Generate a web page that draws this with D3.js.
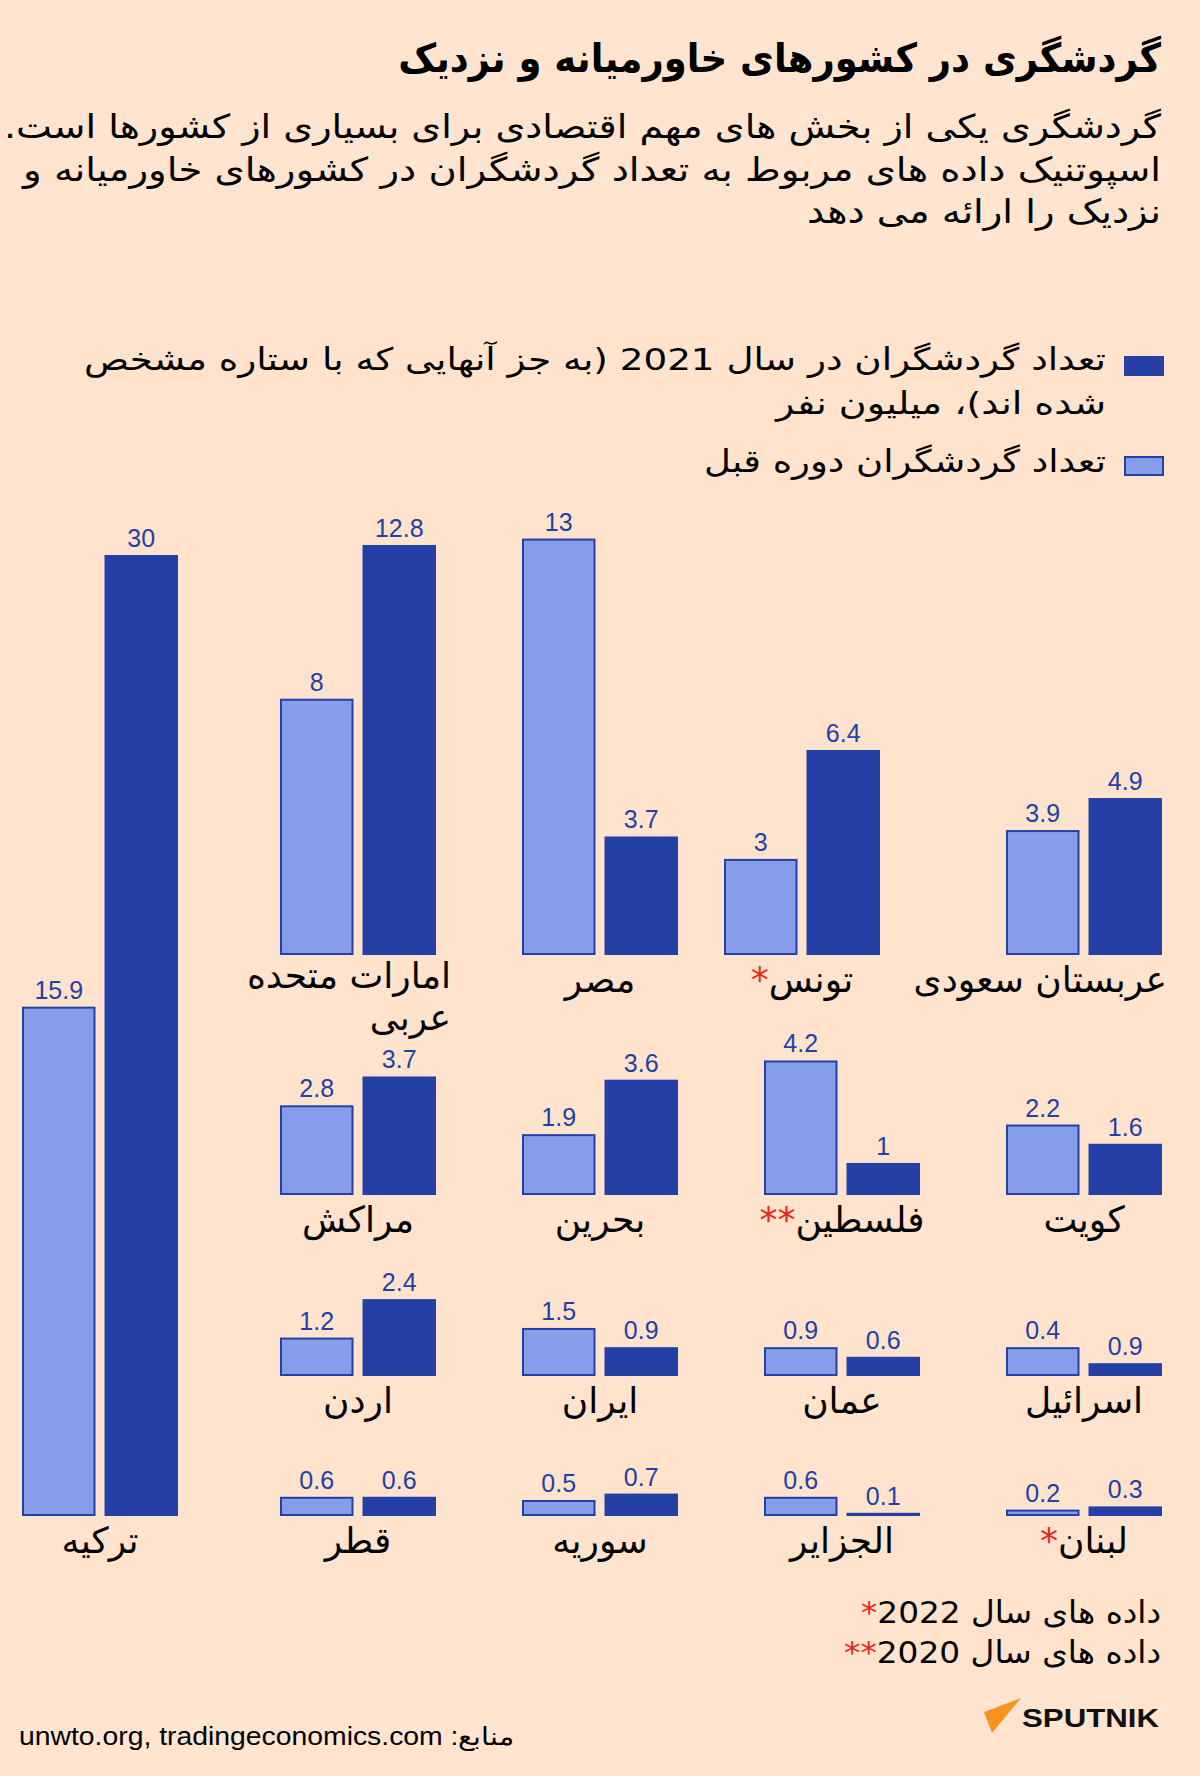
<!DOCTYPE html>
<html><head><meta charset="utf-8">
<script src="https://cdnjs.cloudflare.com/ajax/libs/d3/7.8.5/d3.min.js"></script>
<style>html,body{margin:0;padding:0;background:#FFE5CF;}svg{display:block;}</style>
</head><body><div id="chart"></div>
<script>
// ---------- data ----------
const countries = ["ترکیه","امارات متحده عربی","مصر","تونس","عربستان سعودی","مراکش","بحرین","فلسطین","کویت","اردن","ایران","عمان","اسرائیل","قطر","سوریه","الجزایر","لبنان"];
const prevValues = [15.9, 8, 13, 3, 3.9, 2.8, 1.9, 4.2, 2.2, 1.2, 1.5, 0.9, 0.9, 0.6, 0.5, 0.6, 0.2];
const currValues = [30, 12.8, 3.7, 6.4, 4.9, 3.7, 3.6, 1, 1.6, 2.4, 0.9, 0.6, 0.4, 0.6, 0.7, 0.1, 0.3];
const prevLabels = ["15.9","8","13","3","3.9","2.8","1.9","4.2","2.2","1.2","1.5","0.9","0.4","0.6","0.5","0.6","0.2"];
const currLabels = ["30","12.8","3.7","6.4","4.9","3.7","3.6","1","1.6","2.4","0.9","0.6","0.9","0.6","0.7","0.1","0.3"];
const marks = ["","","","*","","","","**","","","","","","","","","*"];
const seriesNames = ["تعداد گردشگران در سال 2021 (به جز آنهایی که با ستاره مشخص", "شده اند)، میلیون نفر", "تعداد گردشگران دوره قبل"];
const titleText = "گردشگری در کشورهای خاورمیانه و نزدیک";
const subtitleLines = ["گردشگری یکی از بخش های مهم اقتصادی برای بسیاری از کشورها است.", "اسپوتنیک داده های مربوط به تعداد گردشگران در کشورهای خاورمیانه و", "نزدیک را ارائه می دهد"];
const notes = [["داده های سال 2022","*"],["داده های سال 2020","**"]];
const sourceText = "منابع: unwto.org, tradingeconomics.com";

// ---------- layout ----------
const gridRow = [3,0,0,0,0,1,1,1,1,2,2,2,2,3,3,3,3];
const gridCol = [-1,0,1,2,3,0,1,2,3,0,1,2,3,0,1,2,3];
const nudge = {"تونس": -40};
const wrapLabels = {"امارات متحده عربی": ["امارات متحده","عربی"]};
const rightAligned = {"امارات متحده عربی": 15, "عربستان سعودی": 5};
const labelShift = {"امارات متحده عربی": -4};

const DARK = "#2440A6", LIGHT = "#869DEA", BG = "#FFE5CF";
const ARFONT = "'DejaVu Sans', sans-serif";
const NUMFONT = "'Liberation Sans', Arial, sans-serif";

const W = 1200, H = 1776;
const svg = d3.select("#chart").append("svg").attr("width", W).attr("height", H);
svg.append("rect").attr("width", W).attr("height", H).attr("fill", BG);
svg.append("rect").attr("x", 40).attr("y", 333).attr("width", 1131).attr("height", 1330).attr("fill", "#FFE3CD");

// title (horizontally condensed to the reference width via a transform)
const title = svg.append("text").attr("x", 0).attr("y", 0).attr("direction","rtl").attr("text-anchor","start")
  .attr("font-family", ARFONT).attr("font-weight","bold").attr("font-size", 40)
  .attr("fill","#000").text(titleText);
const tw = title.node().getComputedTextLength();
const sx = Math.min(1, 763 / tw);
title.attr("transform", `translate(1161,72) scale(${sx},1)`);

const subW = [1157, 1138, 354];
const subY = [138, 181, 223];
subtitleLines.forEach((t,i)=>{
  svg.append("text").attr("x", 1161).attr("y", subY[i]).attr("direction","rtl").attr("text-anchor","start")
    .attr("font-family", ARFONT).attr("font-size", 33)
    .attr("textLength", subW[i]).attr("lengthAdjust","spacingAndGlyphs").attr("fill","#000").text(t);
});

// legend
svg.append("rect").attr("x",1124).attr("y",356).attr("width",40).attr("height",20).attr("fill",DARK);
svg.append("rect").attr("x",1125).attr("y",457).attr("width",38).attr("height",18).attr("fill",LIGHT).attr("stroke",DARK).attr("stroke-width",2);
const legY = [370, 414, 472];
const legW = [1022, 330, 402];
seriesNames.forEach((t,i)=>{
  svg.append("text").attr("x",1106).attr("y",legY[i]).attr("direction","rtl").attr("text-anchor","start")
    .attr("font-family", ARFONT).attr("font-size", 31)
    .attr("textLength", legW[i]).attr("lengthAdjust","spacingAndGlyphs").attr("fill","#000").text(t);
});

// scales
const y = d3.scaleLinear().domain([0, 30]).range([0, 961]);
const rowBase = d3.scaleOrdinal().domain([0,1,2,3]).range([955, 1195, 1376, 1516]);
const colX = d3.scalePoint().domain([0,1,2,3]).range([280, 1006]);
const band = d3.scaleBand().domain(["prev","curr"]).range([0,156]).paddingInner(0.109);
const bw = band.bandwidth();

const groups = countries.map((c,i)=>({
  name: c, prev: prevValues[i], curr: currValues[i], pl: prevLabels[i], cl: currLabels[i], mark: marks[i],
  base: rowBase(gridRow[i]),
  x: (gridCol[i] < 0 ? 22 : colX(gridCol[i])) + (nudge[c] || 0)
}));

const g = svg.append("g");
groups.forEach(d=>{
  const hp = y(d.prev), hc = y(d.curr);
  const xp = d.x + band("prev"), xc = d.x + band("curr");
  g.append("rect").attr("x", xp+1).attr("y", d.base - hp + 1).attr("width", bw-2).attr("height", Math.max(hp-2,0.5))
    .attr("fill", LIGHT).attr("stroke", DARK).attr("stroke-width", 2);
  g.append("rect").attr("x", xc).attr("y", d.base - hc).attr("width", bw).attr("height", hc).attr("fill", DARK);
  g.append("text").attr("x", xp + bw/2).attr("y", d.base - hp - 8).attr("text-anchor","middle")
    .attr("font-family", NUMFONT).attr("font-size", 25).attr("fill", DARK).text(d.pl);
  g.append("text").attr("x", xc + bw/2).attr("y", d.base - hc - 8).attr("text-anchor","middle")
    .attr("font-family", NUMFONT).attr("font-size", 25).attr("fill", DARK).text(d.cl);
  const lines = wrapLabels[d.name] || [d.name];
  const ra = rightAligned[d.name];
  const lx = ra !== undefined ? d.x + 156 + ra : d.x + 78;
  const t = g.append("text").attr("direction","rtl")
    .attr("x", lx)
    .attr("text-anchor", ra !== undefined ? "start" : "middle")
    .attr("y", d.base + 37 + (labelShift[d.name] || 0))
    .attr("font-family", ARFONT).attr("font-size", 36).attr("fill", "#000");
  lines.forEach((ln, k)=>{
    t.append("tspan").attr("x", lx).attr("dy", k === 0 ? 0 : 42).text(ln);
  });
  if (d.mark) t.append("tspan").attr("fill","#E8281E").text(d.mark);
});

// footnotes
const noteY = [1623, 1663];
const noteW = [300, 317];
notes.forEach((n,i)=>{
  const t = svg.append("text").attr("x",1161).attr("y",noteY[i]).attr("direction","rtl").attr("text-anchor","start")
    .attr("font-family", ARFONT).attr("font-size", 31).attr("fill","#000")
    .attr("textLength", noteW[i]).attr("lengthAdjust","spacingAndGlyphs");
  t.append("tspan").text(n[0]);
  t.append("tspan").attr("fill","#E8281E").text(n[1]);
});

// source
svg.append("text").attr("x", 514).attr("y", 1745).attr("direction","rtl").attr("text-anchor","start")
  .attr("font-family", NUMFONT).attr("font-size", 25).attr("fill","#000")
  .attr("textLength", 495).attr("lengthAdjust","spacingAndGlyphs").text(sourceText);

// logo
svg.append("path").attr("d","M984,1712 L1021,1698 L992,1733 Z").attr("fill","#F7931E");
svg.append("text").attr("x",1022).attr("y",1727).attr("font-family", NUMFONT).attr("font-weight","bold")
  .attr("font-size", 26).attr("textLength", 137).attr("lengthAdjust","spacingAndGlyphs").attr("fill","#111").text("SPUTNIK");
</script></body></html>
